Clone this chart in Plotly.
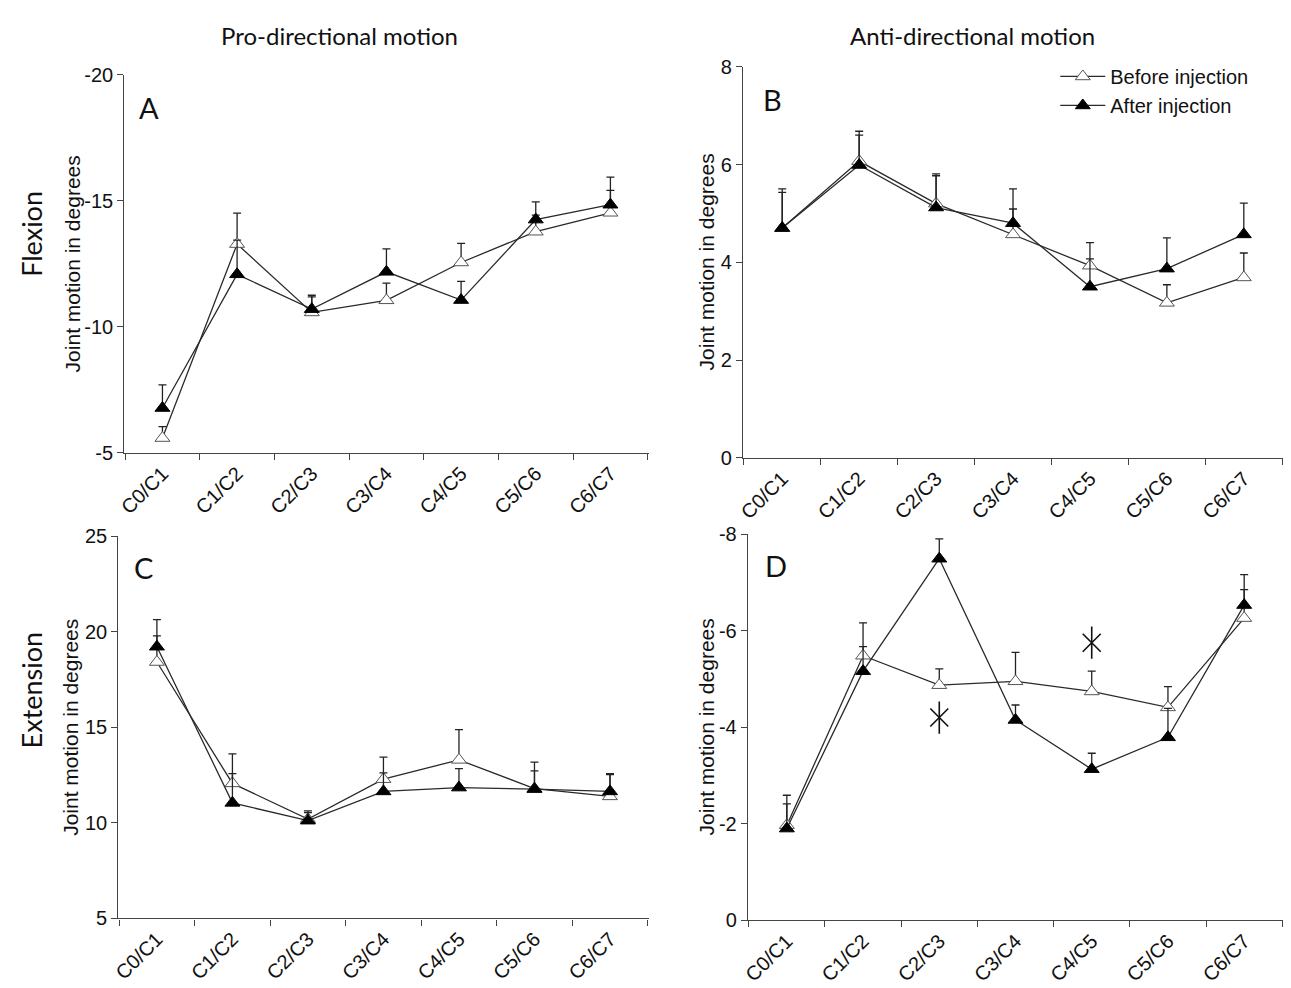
import plotly.graph_objects as go

# ---------------- data ----------------
categories = ["C0/C1", "C1/C2", "C2/C3", "C3/C4", "C4/C5", "C5/C6", "C6/C7"]

# Panel A: Flexion, pro-directional
a_before = [-5.59, -13.28, -10.57, -11.05, -12.55, -13.77, -14.52]
a_before_err = [0.45, 1.23, 0.62, 0.68, 0.76, 0.66, 0.89]
a_after = [-6.78, -12.08, -10.70, -12.18, -11.06, -14.25, -14.84]
a_after_err = [0.92, 1.36, 0.55, 0.91, 0.74, 0.70, 1.09]

# Panel B: Flexion, anti-directional
b_before = [4.70, 6.07, 5.20, 4.57, 3.93, 3.17, 3.69]
b_before_err = [0.80, 0.61, 0.61, 0.52, 0.47, 0.37, 0.50]
b_after = [4.70, 5.99, 5.12, 4.80, 3.50, 3.87, 4.57]
b_after_err = [0.73, 0.61, 0.65, 0.70, 0.57, 0.63, 0.64]

# Panel C: Extension, pro-directional
c_before = [18.41, 12.06, 10.19, 12.28, 13.29, 11.79, 11.38]
c_before_err = [1.37, 1.54, 0.43, 1.15, 1.58, 1.38, 1.14]
c_after = [19.21, 11.04, 10.11, 11.64, 11.84, 11.76, 11.64]
c_after_err = [1.42, 1.53, 0.42, 0.97, 0.99, 0.95, 0.93]

# Panel D: Extension, anti-directional
d_before = [-1.97, -5.48, -4.87, -4.95, -4.74, -4.41, -6.26]
d_before_err = [0.44, 0.68, 0.34, 0.60, 0.42, 0.43, 0.59]
d_after = [-1.90, -5.16, -7.49, -4.15, -3.13, -3.79, -6.53]
d_after_err = [0.69, 0.51, 0.41, 0.31, 0.33, 0.60, 0.63]

# significance marks in panel D
sig_x = ["C2/C3", "C4/C5"]
sig_y = [-4.20, -5.75]

# y tick values / labels
a_ticks = [-20, -15, -10, -5]
a_ticklabels = ["-20", "-15", "-10", "-5"]
b_ticks = [0, 2, 4, 6, 8]
b_ticklabels = ["0", "2", "4", "6", "8"]
c_ticks = [5, 10, 15, 20, 25]
c_ticklabels = ["5", "10", "15", "20", "25"]
d_ticks = [0, -2, -4, -6, -8]
d_ticklabels = ["0", "-2", "-4", "-6", "-8"]

series_names = ["Before injection", "After injection"]
col_titles = ["Pro-directional motion", "Anti-directional motion"]
row_titles = ["Flexion", "Extension"]
y_title = "Joint motion in degrees"

# ---------------- layout helpers ----------------
W, H = 1291, 988


def fx(p):
    return p / W


def fy(p):
    return 1 - p / H


panels = [
    dict(letter="A", n="", before=a_before, berr=a_before_err, after=a_after, aerr=a_after_err,
         yrange=[-5, -20], ticks=a_ticks, labels=a_ticklabels, up_is_neg=True,
         xdom=(118, 645), ydom=(65, 452), letter_pos=(131, 99), ytitle_x=66, legend=False),
    dict(letter="B", n="2", before=b_before, berr=b_before_err, after=b_after, aerr=b_after_err,
         yrange=[0, 8], ticks=b_ticks, labels=b_ticklabels, up_is_neg=False,
         xdom=(740, 1283), ydom=(57, 457), letter_pos=(758, 91), ytitle_x=703, legend=True),
    dict(letter="C", n="3", before=c_before, berr=c_before_err, after=c_after, aerr=c_after_err,
         yrange=[5, 25], ticks=c_ticks, labels=c_ticklabels, up_is_neg=False,
         xdom=(112, 645), ydom=(537, 928), letter_pos=(126, 569), ytitle_x=64, legend=False),
    dict(letter="D", n="4", before=d_before, berr=d_before_err, after=d_after, aerr=d_after_err,
         yrange=[0, -8], ticks=d_ticks, labels=d_ticklabels, up_is_neg=True,
         xdom=(745, 1283), ydom=(535, 930), letter_pos=(760, 567), ytitle_x=703, legend=False),
]

fig = go.Figure()
layout = dict(
    width=W, height=H,
    margin=dict(l=0, r=0, t=0, b=0),
    paper_bgcolor="white", plot_bgcolor="white",
    showlegend=True,
    font=dict(family="Liberation Sans, Arial", color="#111"),
    annotations=[],
)

AX_COL = "#444"
LINE_COL = "#2a2a2a"

for p in panels:
    xa = "x" + p["n"]
    ya = "y" + p["n"]
    zeros = [0] * len(categories)

    def err(vals):
        if p["up_is_neg"]:
            return dict(type="data", symmetric=False, array=zeros, arrayminus=vals,
                        color="#222", thickness=1.3, width=4)
        return dict(type="data", symmetric=False, array=vals, arrayminus=zeros,
                    color="#222", thickness=1.3, width=4)

    fig.add_trace(go.Scatter(
        x=categories, y=p["before"], xaxis=xa, yaxis=ya,
        mode="lines+markers", name=series_names[0],
        line=dict(color=LINE_COL, width=1.3),
        marker=dict(symbol="triangle-up", size=13, color="white",
                    line=dict(color="#555", width=1)),
        error_y=err(p["berr"]), showlegend=p["legend"], legendrank=1,
    ))
    fig.add_trace(go.Scatter(
        x=categories, y=p["after"], xaxis=xa, yaxis=ya,
        mode="lines+markers", name=series_names[1],
        line=dict(color=LINE_COL, width=1.3),
        marker=dict(symbol="triangle-up", size=13, color="black",
                    line=dict(color="black", width=1)),
        error_y=err(p["aerr"]), showlegend=p["legend"], legendrank=2,
    ))

    layout["xaxis" + p["n"]] = dict(
        domain=[fx(p["xdom"][0]), fx(p["xdom"][1])],
        anchor=ya, type="category", categoryorder="array", categoryarray=categories,
        range=[-0.51, 6.51], tickson="boundaries",
        showline=True, linecolor=AX_COL, linewidth=1.4,
        ticks="outside", ticklen=6, tickwidth=1.3, tickcolor=AX_COL,
        tickangle=-45, tickfont=dict(family="Liberation Sans, Arial", size=20, color="#111"),
        showgrid=False, zeroline=False, fixedrange=True,
    )
    layout["yaxis" + p["n"]] = dict(
        domain=[fy(p["ydom"][1]), fy(p["ydom"][0])],
        anchor=xa, range=p["yrange"],
        tickmode="array", tickvals=p["ticks"], ticktext=p["labels"],
        showline=True, linecolor=AX_COL, linewidth=1.4,
        ticks="outside", ticklen=6, tickwidth=1.3, tickcolor=AX_COL,
        tickfont=dict(family="Liberation Sans, Arial", size=20, color="#111"),
        showgrid=False, zeroline=False, fixedrange=True,
    )

    # panel letter
    layout["annotations"].append(dict(
        text=p["letter"], xref="paper", yref="paper",
        x=fx(p["letter_pos"][0]), y=fy(p["letter_pos"][1]),
        xanchor="left", yanchor="middle", showarrow=False,
        font=dict(family="Lato", size=29, color="#111"),
    ))
    # y axis title
    layout["annotations"].append(dict(
        text=y_title, xref="paper", yref="paper",
        x=fx(p["ytitle_x"]), y=fy((p["ydom"][0] + p["ydom"][1]) / 2),
        xanchor="center", yanchor="middle", textangle=-90, showarrow=False,
        font=dict(family="Liberation Sans, Arial", size=21, color="#111"),
    ))

# significance asterisks in panel D
fig.add_trace(go.Scatter(
    x=sig_x, y=sig_y, xaxis="x4", yaxis="y4", mode="markers",
    marker=dict(symbol="line-ns-open", size=23, color="#111", line=dict(color="#111", width=1.6)),
    showlegend=False, hoverinfo="skip",
))
fig.add_trace(go.Scatter(
    x=sig_x, y=sig_y, xaxis="x4", yaxis="y4", mode="markers",
    marker=dict(symbol="x-thin-open", size=18, color="#111", line=dict(color="#111", width=1.6)),
    showlegend=False, hoverinfo="skip",
))

# column titles
for t, cx in zip(col_titles, [334, 971]):
    layout["annotations"].append(dict(
        text=t, xref="paper", yref="paper", x=fx(cx), y=fy(25),
        xanchor="center", yanchor="middle", showarrow=False,
        font=dict(family="Lato", size=24, color="#111"),
    ))
# row titles
for t, cy in zip(row_titles, [228, 694]):
    layout["annotations"].append(dict(
        text=t, xref="paper", yref="paper", x=fx(25), y=fy(cy),
        xanchor="center", yanchor="middle", textangle=-90, showarrow=False,
        font=dict(family="Lato", size=27, color="#111"),
    ))

layout["legend"] = dict(
    x=fx(1054), y=fy(47), xanchor="left", yanchor="top",
    bgcolor="rgba(0,0,0,0)", borderwidth=0, itemwidth=45,
    font=dict(family="Liberation Sans, Arial", size=20, color="#111"),
    tracegroupgap=0, itemclick=False, itemdoubleclick=False,
)

fig.update_layout(**layout)
fig.write_html("out.html", config={"displayModeBar": False},
               post_script="document.body.style.margin='0';")
